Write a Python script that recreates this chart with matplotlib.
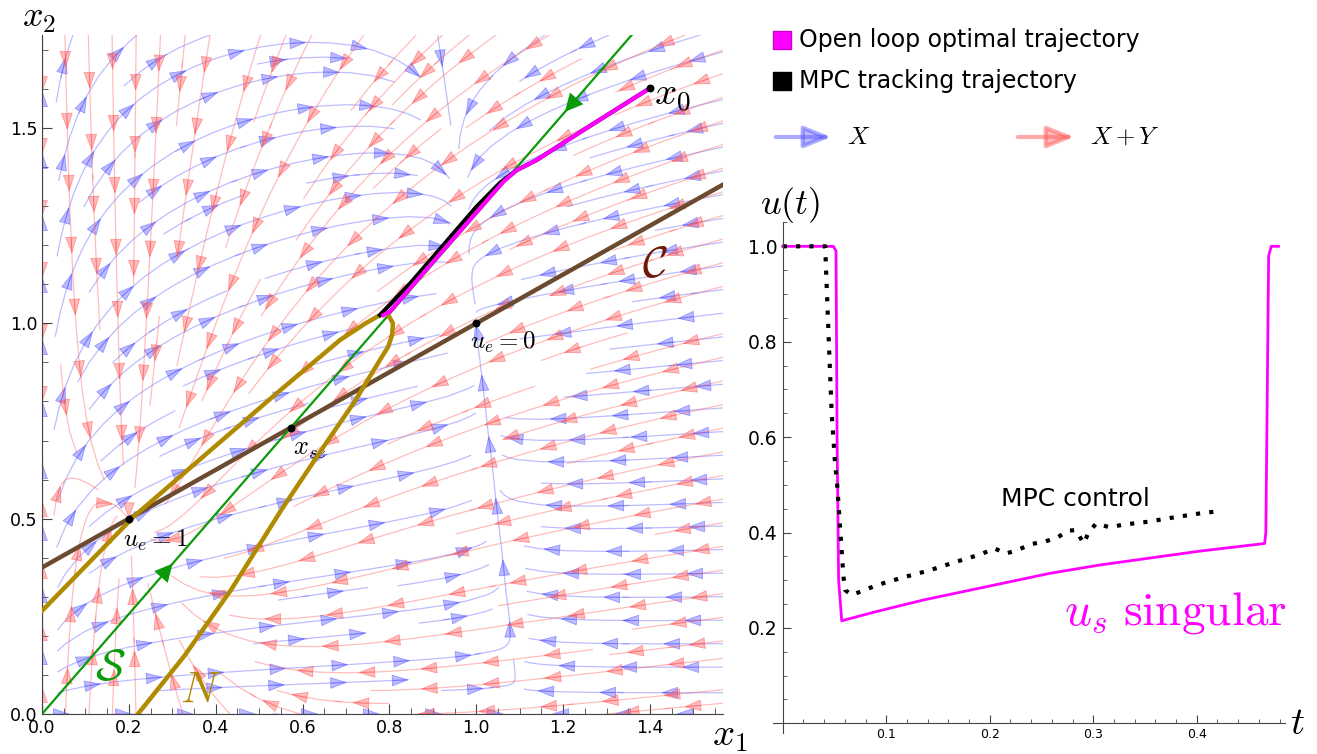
import matplotlib
matplotlib.use('Agg')
import matplotlib.pyplot as plt
import numpy as np
from matplotlib.patches import Rectangle, FancyArrowPatch
from matplotlib.ticker import MultipleLocator

plt.rcParams['mathtext.fontset'] = 'cm'
plt.rcParams['font.family'] = ['DejaVu Sans']

# ---------------- phase plane ----------------
x1_max, x2_max = 1.568, 1.738

c_b, c_a = 0.375, 0.625          # curve C : x2 = c_b + c_a * x1
s_slope = 1.28                   # singular line S : x2 = s_slope * x1

# curve N
n_x1 = [0.0, 0.213, 0.39, 0.55, 0.686, 0.745, 0.778, 0.795, 0.808, 0.806,
        0.797, 0.778, 0.72, 0.644, 0.552, 0.436, 0.328, 0.221]
n_x2 = [0.264, 0.507, 0.677, 0.83, 0.957, 1.0, 1.021, 1.026, 1.0, 0.97,
        0.94, 0.906, 0.80, 0.677, 0.524, 0.319, 0.149, 0.0]

# open loop optimal trajectory (magenta)
ol_x1 = [1.40, 1.247, 1.139, 1.093, 1.062, 0.93, 0.801, 0.786]
ol_x2 = [1.602, 1.495, 1.418, 1.392, 1.362, 1.195, 1.030, 1.021]

# MPC tracking trajectory (black)
mpc_x1 = [1.40, 1.247, 1.139, 1.093, 1.055, 1.0, 0.924, 0.85, 0.778]
mpc_x2 = [1.602, 1.495, 1.418, 1.392, 1.36, 1.298, 1.2, 1.105, 1.021]

# marked points
pt_x1 = [1.4, 1.0, 0.5725, 0.2]
pt_x2 = [1.602, 1.0, 0.733, 0.5]

# vector field parameters
X_K1, X_C1, X_B1 = 3.0, 1.1, 0.1
X_K2, X_C2, X_B2 = 0.3, 2.92, 1.92
XY_K1, XY_C1, XY_A, XY_B, XY_C2 = 2.0, 0.2, 0.582, 0.729, 0.5

# ---------------- control u(t) ----------------
us_t = [0.0, 0.049, 0.0515, 0.0525, 0.054, 0.057, 0.09, 0.1358, 0.2583,
        0.3066, 0.403, 0.4656, 0.4668, 0.4695, 0.472, 0.479]
us_u = [1.0, 1.0, 0.99, 0.6, 0.3, 0.215, 0.234, 0.2585, 0.3145,
        0.332, 0.361, 0.377, 0.40, 0.98, 1.0, 1.0]

mpc_t = [0.0, 0.041, 0.0451, 0.0473, 0.0508, 0.0523, 0.0569, 0.0587, 0.0605,
         0.0667, 0.0786, 0.0914, 0.1165, 0.1423, 0.168, 0.1923, 0.2042,
         0.2158, 0.2264, 0.2407, 0.2533, 0.2657, 0.2757, 0.2834, 0.2907,
         0.296, 0.303, 0.3157, 0.328, 0.3423, 0.3549, 0.3674, 0.3816,
         0.394, 0.4085, 0.421]
mpc_u = [1.0, 1.0, 0.769, 0.65, 0.538, 0.51, 0.363, 0.307, 0.279,
         0.269, 0.279, 0.29, 0.306, 0.321, 0.339, 0.355, 0.367,
         0.356, 0.363, 0.376, 0.381, 0.39, 0.404, 0.405, 0.377,
         0.402, 0.419, 0.411, 0.416, 0.42, 0.423, 0.428, 0.433,
         0.437, 0.442, 0.444]

magenta = '#ff00ff'
green = '#0a9a0a'
gold = '#b08a00'
brown = '#6b4a30'
blue_rgb = (0.35, 0.35, 1.0)
red_rgb = (1.0, 0.35, 0.35)


def field_X(x1, x2):
    d1 = X_K1 * x1 * (X_C1 - x1 - X_B1 * x2)
    d2 = X_K2 * x2 * (X_C2 - X_B2 * x1 - x2)
    return d1, d2


def field_XY(x1, x2):
    d1 = XY_K1 * x1 * (XY_C1 - x1)
    d2 = XY_A * (XY_C1 - x1) + XY_B * (XY_C2 - x2)
    return d1, d2


def arrows_along(ax, lines, rgb, step=62.0):
    # arrow heads spaced along every streamline, Mathematica style
    for k, seg in enumerate(lines.get_segments()):
        p = np.asarray(seg)
        d = ax.transData.transform(p)
        L = np.concatenate([[0], np.cumsum(np.hypot(*np.diff(d, axis=0).T))])
        if L[-1] < 30:
            continue
        start = 20 + (k * 19) % 40
        for s0 in np.arange(start, L[-1] - 6, step):
            xa = np.interp([s0 - 8, s0 + 8], L, p[:, 0])
            ya = np.interp([s0 - 8, s0 + 8], L, p[:, 1])
            ax.add_patch(FancyArrowPatch(
                (xa[0], ya[0]), (xa[1], ya[1]),
                arrowstyle='-|>,head_length=0.55,head_width=0.19',
                mutation_scale=20, shrinkA=0, shrinkB=0, lw=0.6,
                facecolor=rgb + (0.4,), edgecolor=rgb + (0.55,), zorder=2))


fig = plt.figure(figsize=(13.17, 7.54), dpi=100)

# ---------------- left panel ----------------
ax = fig.add_axes([42 / 1317, 40 / 754, 681 / 1317, 679 / 754])
ax.set_xlim(0, x1_max)
ax.set_ylim(0, x2_max)
g1, g2 = np.meshgrid(np.linspace(0, x1_max, 200), np.linspace(0, x2_max, 200))

u1, v1 = field_X(g1, g2)
sp = ax.streamplot(g1, g2, u1, v1, density=1.0, color=blue_rgb + (0.4,),
                   linewidth=0.9, arrowstyle='-')
arrows_along(ax, sp.lines, blue_rgb)

u2, v2 = field_XY(g1, g2)
sp = ax.streamplot(g1, g2, u2, v2, density=1.0, color=red_rgb + (0.4,),
                   linewidth=0.9, arrowstyle='-')
arrows_along(ax, sp.lines, red_rgb)

xs = np.array([0, x1_max])
ax.plot(xs, c_b + c_a * xs, color=brown, lw=3.2, zorder=5)
ax.plot([0, x2_max / s_slope], [0, x2_max], color=green, lw=1.6, zorder=5)
ax.plot(n_x1, n_x2, color=gold, lw=3.2, zorder=5)
ax.plot(mpc_x1, mpc_x2, color='black', lw=3, zorder=6)
ax.plot(ol_x1, ol_x2, color=magenta, lw=3, zorder=7)
ax.scatter(pt_x1, pt_x2, s=22, color='black', zorder=8)

for p, d in [(0.245, 0.06), (1.26, -0.06)]:
    ax.annotate('', xy=(p + d, s_slope * (p + d)), xytext=(p, s_slope * p),
                arrowprops=dict(arrowstyle='-|>', color=green, lw=0,
                                mutation_scale=32), zorder=6)

ax.text(1.41, 1.585, '$x_0$', fontsize=28, va='center', ha='left')
ax.text(1.41, 1.15, r'$\mathcal{C}$', fontsize=32, color='#701808',
        va='center', ha='center')
ax.text(0.985, 0.983, '$u_e=0$', fontsize=18, ha='left', va='top')
ax.text(0.578, 0.714, '$x_{se}$', fontsize=19, ha='left', va='top')
ax.text(0.187, 0.476, '$u_e=1$', fontsize=18, ha='left', va='top')
ax.text(0.157, 0.118, r'$\mathcal{S}$', fontsize=32, color=green,
        va='center', ha='center')
ax.text(0.366, 0.061, '$N$', fontsize=32, color=gold, va='center', ha='center')
ax.text(1.543, -0.054, '$x_1$', fontsize=28, ha='left', va='center', clip_on=False)
ax.text(-0.005, 1.0, '$x_2$', fontsize=26, ha='center', va='bottom',
        transform=ax.transAxes)

ax.spines['top'].set_visible(False)
ax.spines['right'].set_visible(False)
for s in ['left', 'bottom']:
    ax.spines[s].set_color('#444444')
ax.set_xticks(np.arange(0, 1.41, 0.2))
ax.set_yticks([0, 0.5, 1.0, 1.5])
ax.xaxis.set_minor_locator(MultipleLocator(0.05))
ax.yaxis.set_minor_locator(MultipleLocator(0.1))
ax.tick_params(which='both', direction='in', labelsize=12.5, color='#444444')
ax.tick_params(which='major', length=7)
ax.tick_params(which='minor', length=4)

# ---------------- right panel ----------------
bx = fig.add_axes([773 / 1317, 21 / 754, 512 / 1317, 511 / 754])
bx.plot(us_t, us_u, color=magenta, lw=2)
bx.plot(mpc_t, mpc_u, color='black', lw=3, linestyle=(0, (1, 2.2)))
bx.set_xlim(-0.0094, 0.4853)
bx.set_ylim(-0.0203, 1.051)
for s in ['top', 'right']:
    bx.spines[s].set_visible(False)
for s in ['left', 'bottom']:
    bx.spines[s].set_position(('data', 0))
    bx.spines[s].set_color('#444444')
bx.set_xticks([0.1, 0.2, 0.3, 0.4])
bx.set_yticks([0.2, 0.4, 0.6, 0.8, 1.0])
bx.xaxis.set_minor_locator(MultipleLocator(0.02))
bx.yaxis.set_minor_locator(MultipleLocator(0.05))
bx.tick_params(which='both', direction='in', color='#444444')
bx.tick_params(axis='x', labelsize=9)
bx.tick_params(axis='y', labelsize=13.5)
bx.tick_params(which='major', length=6)
bx.tick_params(which='minor', length=3)
bx.text(0.49, 0.0, '$t$', fontsize=28, ha='left', va='center', clip_on=False)
bx.text(-0.0215, 1.045, '$u(t)$', fontsize=26, ha='left', va='bottom', clip_on=False)
bx.text(0.2826, 0.47, 'MPC control', fontsize=18, ha='center', va='center')
bx.text(0.379, 0.231, r'$u_s\ \mathrm{singular}$', fontsize=34, color=magenta,
        ha='center', va='center')

# ---------------- legend ----------------
lg = fig.add_axes([757 / 1317, 588 / 754, 560 / 1317, 166 / 754])
lg.set_xlim(757, 1317)
lg.set_ylim(166, 0)
lg.axis('off')
lg.add_patch(Rectangle((773, 31), 18, 18, facecolor=magenta, edgecolor='#cc00cc', lw=1))
lg.add_patch(Rectangle((773, 72), 18, 18, facecolor='black', edgecolor='black', lw=1))
lg.text(799, 40, 'Open loop optimal trajectory', fontsize=17, va='center')
lg.text(799, 81, 'MPC tracking trajectory', fontsize=17, va='center')
lg.annotate('', xy=(834, 137), xytext=(773, 137),
            arrowprops=dict(arrowstyle='-|>,head_length=0.55,head_width=0.22',
                            facecolor=blue_rgb + (0.4,), edgecolor=blue_rgb + (0.5,),
                            lw=3, mutation_scale=30))
lg.annotate('', xy=(1077, 137), xytext=(1015, 137),
            arrowprops=dict(arrowstyle='-|>,head_length=0.55,head_width=0.22',
                            facecolor=red_rgb + (0.4,), edgecolor=red_rgb + (0.5,),
                            lw=3, mutation_scale=30))
lg.text(847, 137, '$X$', fontsize=18, va='center')
lg.text(1090, 137, '$X+Y$', fontsize=18, va='center')

fig.savefig('out.png', dpi=100)
